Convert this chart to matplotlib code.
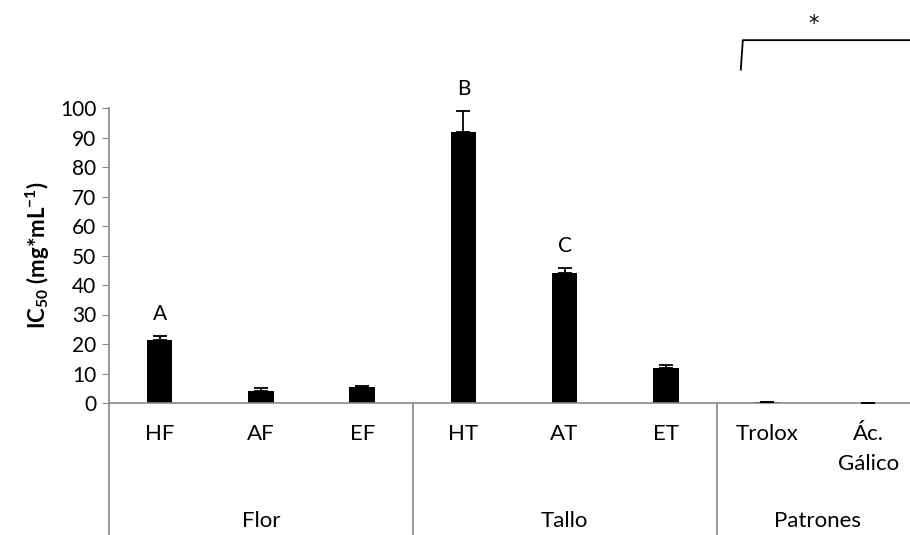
import numpy as np
import matplotlib.pyplot as plt
import matplotlib.transforms as mtransforms

plt.rcParams['font.family'] = ['Lato', 'DejaVu Sans']
plt.rcParams['mathtext.fontset'] = 'custom'
plt.rcParams['mathtext.rm'] = 'Lato:bold'
plt.rcParams['mathtext.bf'] = 'Lato:bold'
plt.rcParams['mathtext.default'] = 'bf'

categories = ['HF', 'AF', 'EF', 'HT', 'AT', 'ET', 'Trolox', 'Ác.\nGálico']
groups = ['Flor', 'Tallo', 'Patrones']
group_sizes = [3, 3, 2]
ic50 = [21.5, 4.2, 5.4, 91.9, 44.0, 11.8, 0.3, 0.1]
ic50_err = [1.2, 0.8, 0.3, 7.0, 1.9, 1.0, 0.0, 0.0]
letters = {0: 'A', 3: 'B', 4: 'C'}

axis_grey = '#898989'

fig = plt.figure(figsize=(9.10, 5.35), dpi=100)
# axes runs a little past the right edge of the figure
ax = fig.add_axes([109 / 910, 132 / 535, 810 / 910, 295 / 535])

x = np.arange(len(categories))
ax.bar(x, ic50, width=0.25, color='black', zorder=2)
ax.errorbar(x, ic50, yerr=[np.zeros(len(x)), ic50_err], fmt='none',
            ecolor='black', elinewidth=1.3, capsize=5, capthick=1.3, zorder=3)

for i, lab in letters.items():
    ax.text(i, ic50[i] + ic50_err[i] + 4, lab, ha='center', va='bottom', fontsize=15)

ax.set_xlim(-0.5, len(categories) - 0.5)
ax.set_ylim(0, 100)
ax.set_yticks(np.arange(0, 101, 10))
ax.tick_params(axis='y', length=5, color=axis_grey, labelsize=15, pad=4)
ax.set_xticks([])

for side in ['top', 'right']:
    ax.spines[side].set_visible(False)
ax.spines['left'].set_color(axis_grey)
ax.spines['bottom'].set_color(axis_grey)
ax.spines['left'].set_linewidth(1.2)
ax.spines['bottom'].set_linewidth(1.2)

ax.set_ylabel('IC$_{50}$ (mg*mL$^{-1}$)', fontsize=16,
              fontweight='bold', labelpad=6)

# multi-level category axis
trans = mtransforms.blended_transform_factory(ax.transData, ax.transAxes)
for i, cat in enumerate(categories):
    ax.text(i, -0.07, cat, transform=trans, ha='center', va='top',
            fontsize=16, linespacing=1.65)

bottom = -0.45
ax.plot([-0.5, -0.5], [0, bottom], transform=trans, color=axis_grey,
        lw=1.2, clip_on=False)
start = 0
for name, n in zip(groups, group_sizes):
    center = start + (n - 1) / 2
    ax.text(center, -0.40, name, transform=trans, ha='center', va='center',
            fontsize=16)
    edge = start + n - 0.5
    ax.plot([edge, edge], [0, bottom], transform=trans, color=axis_grey,
            lw=1.2, clip_on=False)
    start += n

# significance bracket over the standards
ax.plot([5.74, 5.76, 7.6], [113, 123, 123], color='black', lw=1.3,
        clip_on=False)
ax.text(6.46, 125, '*', ha='center', va='bottom', fontsize=15,
        family='DejaVu Sans')

fig.savefig('out.png', dpi=100)
